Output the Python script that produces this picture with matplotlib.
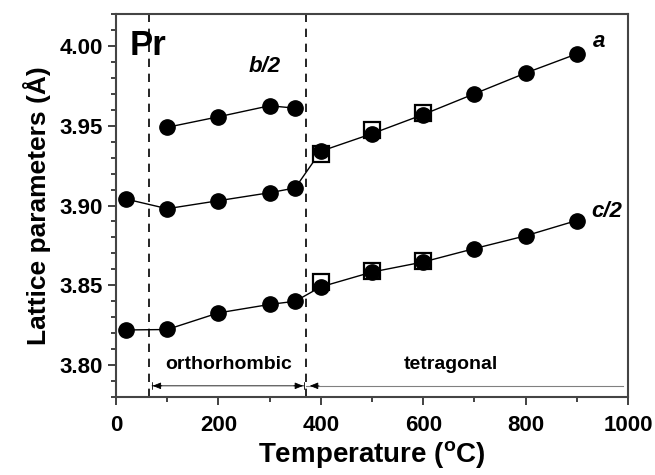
import matplotlib
matplotlib.use("Agg")
import matplotlib.pyplot as plt
from matplotlib.ticker import MultipleLocator

plt.rcParams['font.family'] = ['Liberation Sans', 'DejaVu Sans']
plt.rcParams['font.weight'] = 'bold'

# data
a_T = [20, 100, 200, 300, 350, 400, 500, 600, 700, 800, 900]
a_v = [3.904, 3.898, 3.903, 3.908, 3.911, 3.934, 3.945, 3.957, 3.970, 3.983, 3.995]
b_T = [100, 200, 300, 350]
b_v = [3.949, 3.9556, 3.9625, 3.961]
c_T = [20, 100, 200, 300, 350, 400, 500, 600, 700, 800, 900]
c_v = [3.822, 3.8223, 3.8327, 3.838, 3.840, 3.849, 3.8583, 3.8646, 3.873, 3.881, 3.8906]
sqa_T = [400, 500, 600]
sqa_v = [3.932, 3.947, 3.958]
sqc_T = [400, 500, 600]
sqc_v = [3.852, 3.859, 3.865]
trans_T = [65, 372]

fig = plt.figure(figsize=(6.55, 4.75), dpi=100)
ax = fig.add_axes([116/655, 1-397/475, (628-116)/655, (397-14)/475])

ms = 11
for T, v in [(sqa_T, sqa_v), (sqc_T, sqc_v)]:
    ax.plot(T, v, ls='none', marker='s', ms=11.5, mfc='white', mec='black', mew=1.6, zorder=3)
for T, v in [(a_T, a_v), (b_T, b_v), (c_T, c_v)]:
    ax.plot(T, v, color='black', lw=1.0, zorder=2)
    ax.plot(T, v, ls='none', marker='o', ms=ms, color='black', zorder=4)

for t in trans_T:
    ax.axvline(t, color='black', ls=(0, (5, 4)), lw=1.2, zorder=1)

ya = 3.787
ax.annotate('', xy=(trans_T[0], ya), xytext=(trans_T[1], ya),
            arrowprops=dict(arrowstyle='|-|,widthA=0.25,widthB=0.25', color='black', lw=0.6))
ax.annotate('', xy=(trans_T[0] + 1, ya), xytext=(trans_T[0] + 30, ya),
            arrowprops=dict(arrowstyle='-|>,head_width=0.2,head_length=0.5', color='black', lw=0.6))
ax.annotate('', xy=(trans_T[1] - 1, ya), xytext=(trans_T[1] - 30, ya),
            arrowprops=dict(arrowstyle='-|>,head_width=0.2,head_length=0.5', color='black', lw=0.6))
ax.plot([trans_T[1], 990], [ya, ya], color='gray', lw=0.8)
ax.annotate('', xy=(trans_T[1] + 1, ya), xytext=(trans_T[1] + 30, ya),
            arrowprops=dict(arrowstyle='-|>,head_width=0.2,head_length=0.5', color='black', lw=0.6))

ax.text(221, 3.8005, 'orthorhombic', ha='center', va='center', fontsize=14, fontweight='bold')
ax.text(654, 3.8005, 'tetragonal', ha='center', va='center', fontsize=14, fontweight='bold')
ax.text(27, 4.000, 'Pr', ha='left', va='center', fontsize=25, fontweight='bold')
ax.text(290, 3.987, 'b/2', ha='center', va='center', fontsize=16, fontweight='bold', style='italic')
ax.text(943, 4.003, 'a', ha='center', va='center', fontsize=16, fontweight='bold', style='italic')
ax.text(958, 3.896, 'c/2', ha='center', va='center', fontsize=16, fontweight='bold', style='italic')

ax.set_xlim(0, 1000)
ax.set_ylim(3.78, 4.02)
ax.xaxis.set_major_locator(MultipleLocator(200))
ax.xaxis.set_minor_locator(MultipleLocator(100))
ax.yaxis.set_major_locator(MultipleLocator(0.05))
ax.yaxis.set_minor_locator(MultipleLocator(0.01))
ax.tick_params(which='both', direction='out', width=1.3, labelsize=16, colors='#333333', labelcolor='black')
ax.tick_params(which='major', length=6)
ax.tick_params(which='minor', length=3.5)
ax.tick_params(axis='x', which='major', pad=7)
ax.set_yticks([3.80, 3.85, 3.90, 3.95, 4.00])
ax.set_yticklabels(['3.80', '3.85', '3.90', '3.95', '4.00'])
for s in ax.spines.values():
    s.set_linewidth(1.5)
    s.set_color('#444444')

ax.set_xlabel('Temperature ($\\mathregular{^o}$C)', fontsize=20, fontweight='bold', labelpad=2)
ax.set_ylabel('Lattice parameters (Å)', fontsize=19, fontweight='bold', labelpad=6)

fig.savefig('out.png', dpi=100)
